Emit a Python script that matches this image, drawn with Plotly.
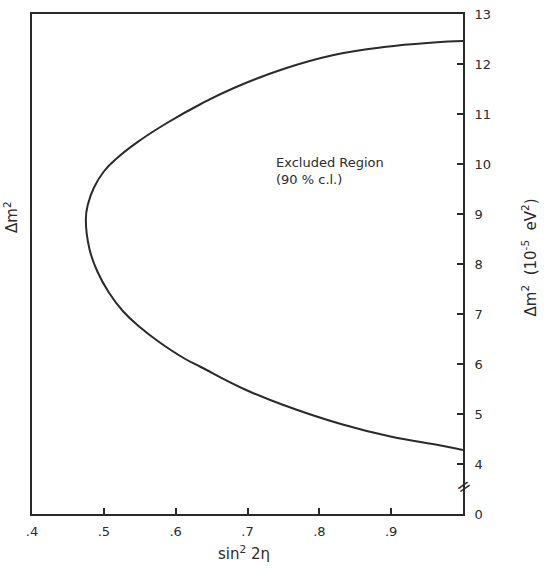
import plotly.graph_objects as go

# excluded-region contour (upper branch -> nose -> lower branch)
sin2_2eta = [1.000, 0.959, 0.890, 0.820, 0.750, 0.681, 0.635, 0.589, 0.551, 0.521,
             0.500, 0.486, 0.478, 0.475, 0.480, 0.491, 0.507, 0.527, 0.550, 0.577,
             0.611, 0.635, 0.695, 0.750, 0.830, 0.899, 0.969, 1.000]
dm2 = [12.46, 12.43, 12.34, 12.18, 11.90, 11.52, 11.20, 10.83, 10.48, 10.15,
       9.85, 9.52, 9.20, 8.90, 8.30, 7.85, 7.43, 7.05, 6.74, 6.44,
       6.12, 5.94, 5.50, 5.18, 4.80, 4.55, 4.37, 4.28]

x_ticks = [0.4, 0.5, 0.6, 0.7, 0.8, 0.9]
x_labels = [".4", ".5", ".6", ".7", ".8", ".9"]
# axis is broken below 4, the bottom corner stands for 0
y_ticks = [3, 4, 5, 6, 7, 8, 9, 10, 11, 12, 13]
y_labels = ["0", "4", "5", "6", "7", "8", "9", "10", "11", "12", "13"]

ink = "#2a2a2a"
txt = dict(family="DejaVu Sans", size=13, color=ink)

fig = go.Figure()
fig.add_trace(go.Scatter(x=sin2_2eta, y=dm2, mode="lines", line_shape="spline",
                         line=dict(color=ink, width=2, smoothing=1.3), showlegend=False,
                         hoverinfo="skip"))

axis_style = dict(ticks="inside", ticklen=6, tickcolor=ink, tickwidth=1.5,
                  showline=True, linecolor=ink, linewidth=2, mirror=True,
                  showgrid=False, zeroline=False, automargin=False)

fig.update_layout(
    width=554, height=569,
    margin=dict(l=32, r=91, t=14, b=55),
    paper_bgcolor="white", plot_bgcolor="white",
    font=txt,
    xaxis=dict(range=[0.4, 1.0], tickvals=x_ticks, ticktext=x_labels,
               ticklabelstandoff=4, **axis_style),
    yaxis=dict(range=[3, 13], side="right", tickvals=y_ticks, ticktext=y_labels,
               ticklabelstandoff=7, **axis_style),
)

annotations = [
    dict(text="Excluded Region<br>(90 % c.l.)", x=0.5625, y=0.685, xref="paper", yref="paper",
         xanchor="left", yanchor="middle", align="left", showarrow=False,
         font=dict(family="DejaVu Sans", size=13, color=ink)),
    dict(text="sin<sup>2</sup> 2η", x=0.493, y=-0.077, xref="paper", yref="paper",
         xanchor="center", yanchor="middle", showarrow=False,
         font=dict(family="DejaVu Sans", size=15, color=ink)),
    dict(text="Δm<sup>2</sup>", x=-0.05, y=0.595, xref="paper", yref="paper", textangle=-90,
         xanchor="center", yanchor="middle", showarrow=False,
         font=dict(family="DejaVu Sans", size=15, color=ink)),
    dict(text="Δm<sup>2</sup>  (10<sup>-5</sup>  eV<sup>2</sup>)", x=1.153, y=0.513,
         xref="paper", yref="paper", textangle=-90, xanchor="center", yanchor="middle",
         showarrow=False, font=dict(family="DejaVu Sans", size=15, color=ink)),
    # axis break mark
    dict(text="=", x=1.0, y=3.55, xref="x", yref="y", textangle=-35, showarrow=False,
         font=dict(family="DejaVu Sans", size=18, color=ink)),
]
fig.update_layout(annotations=annotations)

fig.write_html("out.html", config={"displayModeBar": False},
               post_script="document.body.style.margin='0';")
